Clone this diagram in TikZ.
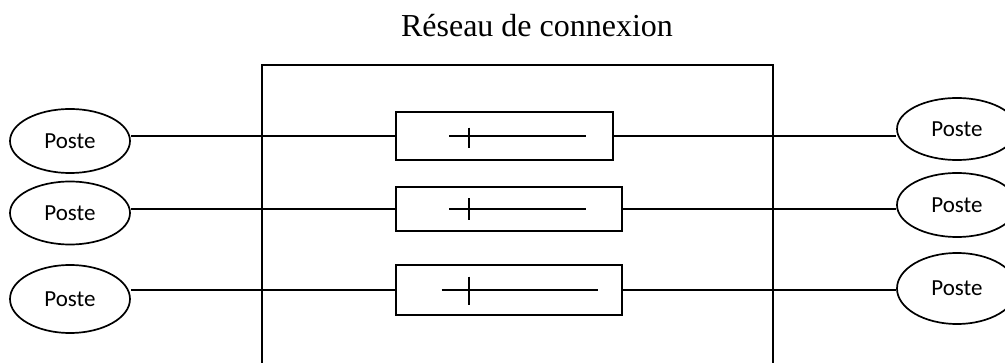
\documentclass[tikz,border=0pt]{standalone}
\usepackage{fontspec}
\setmainfont{Liberation Serif}
\newfontfamily\calib{Carlito}
\usetikzlibrary{shapes.geometric}
\tikzset{
  wire/.style={line width=1.9pt},
  poste/.style={ellipse, draw, line width=1.7pt, minimum width=120pt, inner sep=0pt, font=\calib\fontsize{23}{26}\selectfont},
  switchbox/.style={rectangle, draw, line width=1.9pt, inner sep=0pt},
  netbox/.style={rectangle, draw, line width=1.9pt, inner sep=0pt},
  title/.style={font=\fontsize{32}{36}\selectfont, inner sep=0pt}
}
\begin{document}
\begin{tikzpicture}[x=1pt,y=-1pt]
\useasboundingbox (0,0) rectangle (1005,363);
\clip (0,0) rectangle (1005,363);
% title
\node[title, anchor=base] (t) at (537,36.7) {Réseau de connexion};
% network box (bottom runs off the picture)
\node[netbox, minimum width=510.7pt, minimum height=330pt] (net) at (517.3,229.7) {};
% switch boxes
\node[switchbox, minimum width=217pt, minimum height=48.3pt] (b1) at (504.2,136) {};
\node[switchbox, minimum width=226.3pt, minimum height=44.3pt] (b2) at (509.2,209.3) {};
\node[switchbox, minimum width=226pt, minimum height=50.7pt] (b3) at (509,290) {};
% left postes
\node[poste, minimum height=64pt] (l1) at (70,141) {Poste};
\node[poste, minimum height=63pt] (l2) at (70,213) {Poste};
\node[poste, minimum height=68pt] (l3) at (70,299) {Poste};
% right postes
\node[poste, minimum height=62pt] (r1) at (957,129) {Poste};
\node[poste, minimum height=64pt] (r2) at (957,205) {Poste};
\node[poste, minimum height=71pt] (r3) at (957,288.5) {Poste};
% connectors
\draw[wire] (b1.west) -- (b1.west -| l1.east);
\draw[wire] (b2.west) -- (b2.west -| l2.east);
\draw[wire] (b3.west) -- (b3.west -| l3.east);
\draw[wire] (b1.east) -- (b1.east -| r1.west);
\draw[wire] (b2.east) -- (b2.east -| r2.west);
\draw[wire] (b3.east) -- (b3.east -| r3.west);
% switch symbols
\draw[wire] (449.3,136) -- (585.7,136);
\draw[wire] (469,127.7) -- (469,148.3);
\draw[wire] (449.3,209.3) -- (585.7,209.3);
\draw[wire] (469,198.5) -- (469,219.8);
\draw[wire] (441.7,290) -- (598.3,290);
\draw[wire] (469,276.7) -- (469,304.7);
\end{tikzpicture}
\end{document}
